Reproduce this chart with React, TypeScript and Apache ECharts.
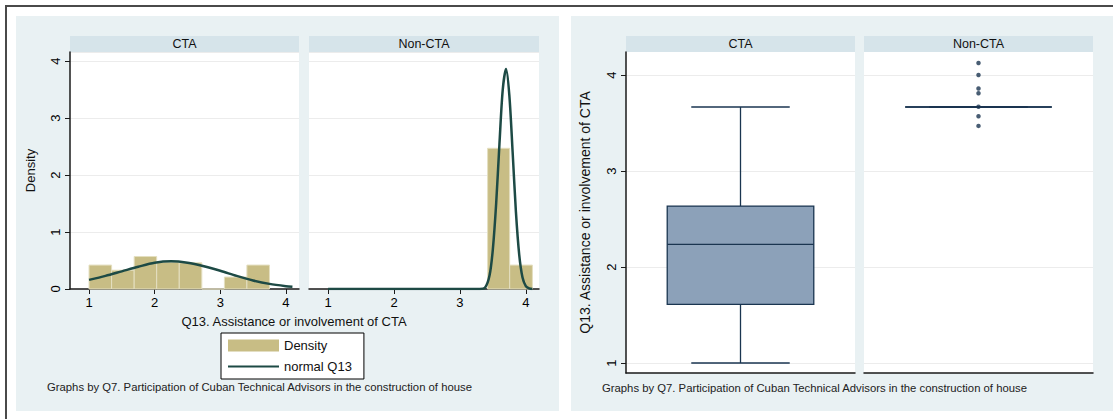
import React, { useEffect, useRef } from "react";
import * as echarts from "echarts";

const panels = ["CTA", "Non-CTA"];
const xTicks = [1, 2, 3, 4];
const boxTicks = [1, 2, 3, 4];

// histogram bins: [start, end, density]
const ctaBins = [
  [1.0, 1.344, 0.42],
  [1.344, 1.688, 0.33],
  [1.688, 2.031, 0.57],
  [2.031, 2.375, 0.47],
  [2.375, 2.719, 0.46],
  [2.719, 3.063, 0],
  [3.063, 3.406, 0.21],
  [3.406, 3.75, 0.42],
];
const nonCtaBins = [
  [3.42, 3.755, 2.47],
  [3.755, 4.1, 0.42],
];

// normal density curves: [x, density]
const ctaNormal = [
  [1.0, 0.16], [1.25, 0.23], [1.5, 0.31], [1.75, 0.39], [2.0, 0.46],
  [2.25, 0.485], [2.5, 0.46], [2.75, 0.4], [3.0, 0.32], [3.25, 0.23],
  [3.5, 0.15], [3.75, 0.09], [4.0, 0.05], [4.1, 0.04],
];
const nonCtaNormal = [
  [1.0, 0], [2.0, 0], [3.0, 0], [3.3, 0], [3.38, 0.02], [3.45, 0.24],
  [3.5, 0.7], [3.55, 1.5], [3.6, 2.55], [3.65, 3.5], [3.7, 3.86],
  [3.75, 3.4], [3.8, 2.4], [3.85, 1.35], [3.9, 0.6], [3.95, 0.2],
  [4.0, 0.05], [4.05, 0.01], [4.1, 0],
];

// box stats: [min, q1, median, q3, max]
const ctaBox = [1.0, 1.61, 2.236, 2.635, 3.667];
const nonCtaBox = [3.667, 3.667, 3.667, 3.667, 3.667];
const nonCtaOutliers = [4.125, 4.0, 3.86, 3.81, 3.67, 3.57, 3.47];

const axisTitle = "Q13. Assistance or involvement of CTA";
const footnote =
  "Graphs by Q7. Participation of Cuban Technical Advisors in the construction of house";

const FONT = "Liberation Sans, Arial, sans-serif";
const BG = "#e9f1f3";
const STRIP = "#d6e4ea";
const AXIS = "#1a1a1a";
const GRIDLINE = "#ececec";
const KHAKI = "#c8bd85";
const GREEN = "#1d4a45";
const NAVY = "#1a3550";
const BOXFILL = "#8ca1b9";

export default function App() {
  const ref = useRef<HTMLDivElement>(null);

  useEffect(() => {
    if (!ref.current) return;
    const chart = echarts.init(ref.current, null, { renderer: "svg" });

    const histGrids = [
      { left: 70, top: 52, width: 229, height: 237 },
      { left: 309, top: 52, width: 230, height: 237 },
    ];
    const boxGrids = [
      { left: 626, top: 52, width: 229, height: 321 },
      { left: 864, top: 52, width: 229, height: 321 },
    ];
    const allGrids = [...histGrids, ...boxGrids].map((g) => ({
      ...g,
      show: true,
      backgroundColor: "#ffffff",
      borderWidth: 0,
      containLabel: false,
    }));

    const labelStyle = { color: "#000", fontSize: 13, fontFamily: FONT };

    const histX = [0, 1].map((i) => ({
      type: "value",
      gridIndex: i,
      min: 0.71,
      max: 4.2,
      axisLine: { show: true, onZero: false, lineStyle: { color: AXIS, width: 1.5 } },
      axisTick: { show: true, customValues: xTicks, length: 5, lineStyle: { color: AXIS } },
      axisLabel: { show: true, customValues: xTicks, margin: 7, ...labelStyle },
      splitLine: { show: false },
    }));
    const histY = [0, 1].map((i) => ({
      type: "value",
      gridIndex: i,
      min: 0,
      max: 4.16,
      interval: 1,
      name: i === 0 ? "Density" : "",
      nameLocation: "middle",
      nameGap: 33,
      nameTextStyle: { color: "#111", fontSize: 13, fontFamily: FONT },
      axisLine: { show: i === 0, lineStyle: { color: AXIS, width: 1.5 } },
      axisTick: { show: i === 0, length: 5, lineStyle: { color: AXIS } },
      axisLabel: { show: i === 0, rotate: 90, margin: 8, ...labelStyle },
      splitLine: { show: true, lineStyle: { color: GRIDLINE, width: 1 } },
    }));
    const boxX = [2, 3].map((g, i) => ({
      type: "category",
      gridIndex: g,
      data: [panels[i]],
      axisLine: { show: true, lineStyle: { color: AXIS, width: 1.5 } },
      axisTick: { show: false },
      axisLabel: { show: false },
      splitLine: { show: false },
    }));
    const boxY = [2, 3].map((g, i) => ({
      type: "value",
      gridIndex: g,
      min: 0.896,
      max: 4.24,
      name: i === 0 ? axisTitle : "",
      nameLocation: "middle",
      nameGap: 34,
      nameTextStyle: { color: "#111", fontSize: 14, fontFamily: FONT },
      axisLine: { show: i === 0, lineStyle: { color: AXIS, width: 1.5 } },
      axisTick: { show: i === 0, customValues: boxTicks, length: 5, lineStyle: { color: AXIS } },
      axisLabel: { show: i === 0, customValues: boxTicks, rotate: 90, margin: 8, ...labelStyle },
      splitLine: { show: true, lineStyle: { color: GRIDLINE, width: 1 } },
    }));

    const binRender = (params: any, api: any) => {
      const p0 = api.coord([api.value(0), api.value(2)]);
      const p1 = api.coord([api.value(1), 0]);
      return {
        type: "rect",
        shape: { x: p0[0], y: p0[1], width: p1[0] - p0[0], height: p1[1] - p0[1] },
        style: { fill: KHAKI, stroke: "#e4dfc0", lineWidth: 1 },
      };
    };

    const boxRender = (params: any, api: any) => {
      const cat = api.value(0);
      const v = [1, 2, 3, 4, 5].map((k) => api.value(k));
      const pts = v.map((val) => api.coord([cat, val]));
      const cx = pts[2][0];
      const band = api.size([1, 0])[0];
      const hw = band * 0.32;
      const cw = band * 0.215;
      const lineStyle = { stroke: NAVY, lineWidth: 1.3 };
      return {
        type: "group",
        children: [
          { type: "line", shape: { x1: cx, y1: pts[0][1], x2: cx, y2: pts[1][1] }, style: lineStyle },
          { type: "line", shape: { x1: cx, y1: pts[3][1], x2: cx, y2: pts[4][1] }, style: lineStyle },
          { type: "line", shape: { x1: cx - cw, y1: pts[0][1], x2: cx + cw, y2: pts[0][1] }, style: lineStyle },
          { type: "line", shape: { x1: cx - cw, y1: pts[4][1], x2: cx + cw, y2: pts[4][1] }, style: lineStyle },
          {
            type: "rect",
            shape: { x: cx - hw, y: pts[3][1], width: hw * 2, height: pts[1][1] - pts[3][1] },
            style: { fill: BOXFILL, stroke: NAVY, lineWidth: 1.3 },
          },
          { type: "line", shape: { x1: cx - hw, y1: pts[2][1], x2: cx + hw, y2: pts[2][1] }, style: lineStyle },
        ],
      };
    };

    const stripEls: any[] = [];
    const strips = [
      { x: 70, w: 229, label: panels[0] },
      { x: 309, w: 230, label: panels[1] },
      { x: 626, w: 229, label: panels[0] },
      { x: 864, w: 229, label: panels[1] },
    ];
    strips.forEach((s) => {
      stripEls.push({
        type: "rect",
        shape: { x: s.x, y: 36, width: s.w, height: 16 },
        style: { fill: STRIP },
      });
      stripEls.push({
        type: "text",
        x: s.x + s.w / 2,
        y: 44,
        style: {
          text: s.label,
          fill: "#111",
          font: `12.5px ${FONT}`,
          textAlign: "center",
          textVerticalAlign: "middle",
        },
      });
    });

    const option: any = {
      animation: false,
      backgroundColor: "#ffffff",
      grid: allGrids,
      xAxis: [...histX, ...boxX],
      yAxis: [...histY, ...boxY],
      legend: {
        left: 221,
        top: 333,
        orient: "vertical",
        data: [
          { name: "Density", icon: "rect" },
          { name: "normal Q13", itemStyle: { opacity: 0 } },
        ],
        itemWidth: 51,
        itemHeight: 12,
        itemGap: 8,
        padding: [6, 12, 6, 6],
        borderColor: "#000",
        borderWidth: 1,
        backgroundColor: "#ffffff",
        selectedMode: false,
        textStyle: { color: "#111", fontSize: 13, fontFamily: FONT },
      },
      graphic: {
        elements: [
          {
            type: "rect",
            z: -20,
            shape: { x: 6, y: 6, width: 1130, height: 440 },
            style: { fill: "#ffffff", stroke: "#4a4a4a", lineWidth: 2 },
          },
          {
            type: "rect",
            z: -10,
            shape: { x: 16, y: 16, width: 543, height: 395 },
            style: { fill: BG },
          },
          {
            type: "rect",
            z: -10,
            shape: { x: 571, y: 16, width: 560, height: 395 },
            style: { fill: BG },
          },
          ...stripEls,
          {
            type: "text",
            x: 294,
            y: 321,
            style: {
              text: axisTitle,
              fill: "#111",
              font: `13px ${FONT}`,
              textAlign: "center",
              textVerticalAlign: "middle",
            },
          },
          {
            type: "text",
            x: 47,
            y: 387,
            style: {
              text: footnote,
              fill: "#222",
              font: `11.3px ${FONT}`,
              textAlign: "left",
              textVerticalAlign: "middle",
            },
          },
          {
            type: "text",
            x: 602,
            y: 388,
            style: {
              text: footnote,
              fill: "#222",
              font: `11.3px ${FONT}`,
              textAlign: "left",
              textVerticalAlign: "middle",
            },
          },
        ],
      },
      series: [
        {
          name: "Density",
          type: "custom",
          xAxisIndex: 0,
          yAxisIndex: 0,
          itemStyle: { color: KHAKI },
          encode: { x: [0, 1], y: 2 },
          data: ctaBins,
          renderItem: binRender,
        },
        {
          name: "Density",
          type: "custom",
          xAxisIndex: 1,
          yAxisIndex: 1,
          itemStyle: { color: KHAKI },
          encode: { x: [0, 1], y: 2 },
          data: nonCtaBins,
          renderItem: binRender,
        },
        {
          name: "normal Q13",
          type: "line",
          xAxisIndex: 0,
          yAxisIndex: 0,
          data: ctaNormal,
          smooth: 0.3,
          symbol: "none",
          z: 5,
          itemStyle: { color: GREEN },
          lineStyle: { color: GREEN, width: 2.5 },
        },
        {
          name: "normal Q13",
          type: "line",
          xAxisIndex: 1,
          yAxisIndex: 1,
          data: nonCtaNormal,
          smooth: 0.3,
          symbol: "none",
          z: 5,
          itemStyle: { color: GREEN },
          lineStyle: { color: GREEN, width: 2.5 },
        },
        {
          name: "box CTA",
          type: "custom",
          xAxisIndex: 2,
          yAxisIndex: 2,
          encode: { x: 0, y: [1, 2, 3, 4, 5] },
          data: [[0, ...ctaBox]],
          renderItem: boxRender,
        },
        {
          name: "box Non-CTA",
          type: "custom",
          xAxisIndex: 3,
          yAxisIndex: 3,
          encode: { x: 0, y: [1, 2, 3, 4, 5] },
          data: [[0, ...nonCtaBox]],
          renderItem: boxRender,
        },
        {
          name: "outliers",
          type: "scatter",
          xAxisIndex: 3,
          yAxisIndex: 3,
          symbol: "circle",
          symbolSize: 4.5,
          z: 6,
          itemStyle: { color: NAVY },
          data: nonCtaOutliers.map((v) => [0, v]),
        },
      ],
    };

    chart.setOption(option);
    return () => chart.dispose();
  }, []);

  return (
    <div
      ref={ref}
      style={{ position: "absolute", left: 0, top: 0, width: 1113, height: 419 }}
    />
  );
}
